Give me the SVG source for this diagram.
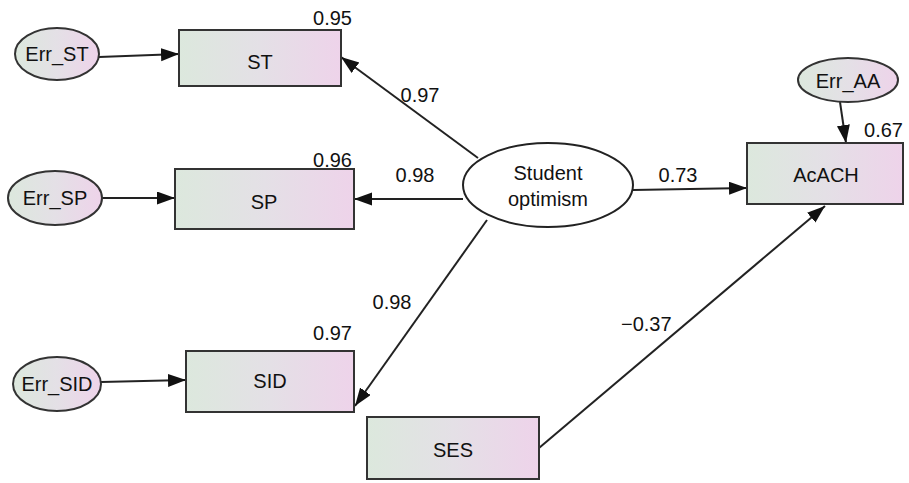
<svg xmlns="http://www.w3.org/2000/svg" width="909" height="483" viewBox="0 0 909 483">
<defs>
<linearGradient id="g" x1="0" y1="0" x2="1" y2="0">
<stop offset="0" stop-color="#dce8dd"/>
<stop offset="0.5" stop-color="#e4e0e6"/>
<stop offset="1" stop-color="#eed3ea"/>
</linearGradient>
<marker id="a" markerUnits="userSpaceOnUse" markerWidth="20" markerHeight="14" refX="18" refY="6.5" orient="auto">
<path d="M0,0 L18,6.5 L0,13 z" fill="#111"/>
</marker>
<style>
.b{fill:url(#g);stroke:#333;stroke-width:2}
.w{fill:#fff;stroke:#222;stroke-width:2}
text{font-family:"Liberation Sans",Arial,sans-serif;font-size:20px;fill:#111}
.m{text-anchor:middle}
.e{text-anchor:end}
.c line{stroke:#222;stroke-width:2;marker-end:url(#a)}
</style>
</defs>
<rect width="909" height="483" fill="#fff"/>
<g class="c">
<line x1="99" y1="57" x2="179" y2="54"/>
<line x1="102" y1="198" x2="175" y2="198"/>
<line x1="101" y1="382" x2="186" y2="380"/>
<line x1="840" y1="102" x2="846" y2="143"/>
<line x1="478" y1="158" x2="341" y2="57"/>
<line x1="463" y1="199" x2="354" y2="199"/>
<line x1="487" y1="220" x2="355" y2="406"/>
<line x1="633" y1="190" x2="747" y2="188"/>
<line x1="539" y1="448" x2="825" y2="206"/>
</g>
<g id="Err_ST"><ellipse class="b" cx="57" cy="54" rx="42" ry="26"/><text class="m" x="57" y="61">Err_ST</text></g>
<g id="Err_SP"><ellipse class="b" cx="55" cy="198" rx="47" ry="27"/><text class="m" x="55" y="205">Err_SP</text></g>
<g id="Err_SID"><ellipse class="b" cx="57" cy="384" rx="44" ry="27"/><text class="m" x="57" y="391">Err_SID</text></g>
<g id="Err_AA"><ellipse class="b" cx="848" cy="80" rx="50" ry="22"/><text class="m" x="848" y="88">Err_AA</text></g>
<g id="ST"><rect class="b" x="179" y="30" width="162" height="56"/><text class="m" x="260" y="69">ST</text><text class="e" x="352" y="25">0.95</text></g>
<g id="SP"><rect class="b" x="175" y="169" width="179" height="60"/><text class="m" x="264" y="209">SP</text><text class="e" x="352" y="167">0.96</text></g>
<g id="SID"><rect class="b" x="186" y="351" width="168" height="61"/><text class="m" x="270" y="388">SID</text><text class="e" x="352" y="340">0.97</text></g>
<g id="SES"><rect class="b" x="367" y="417" width="172" height="62"/><text class="m" x="453" y="457">SES</text></g>
<g id="AcACH"><rect class="b" x="747" y="143" width="156" height="61"/><text class="m" x="826" y="182">AcACH</text><text class="e" x="903" y="137">0.67</text></g>
<g id="Student_optimism"><ellipse class="w" cx="548" cy="185" rx="85" ry="42"/><text class="m" x="548" y="180">Student</text><text class="m" x="548" y="206">optimism</text></g>
<g id="labels">
<text class="m" x="420" y="102">0.97</text>
<text class="m" x="415" y="182">0.98</text>
<text class="m" x="392" y="309">0.98</text>
<text class="m" x="678" y="182">0.73</text>
<text x="621" y="331">−0.37</text>
</g>
</svg>
